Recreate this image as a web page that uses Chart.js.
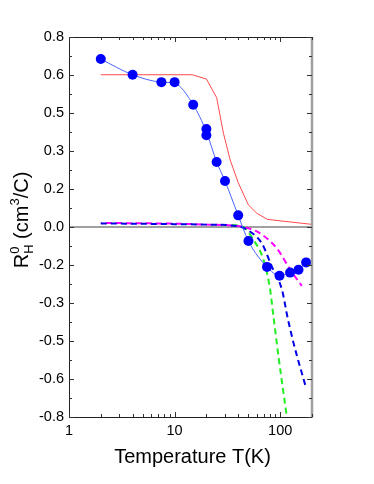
<!DOCTYPE html>
<html>
<head>
<meta charset="utf-8">
<script src="https://cdn.jsdelivr.net/npm/chart.js@4/dist/chart.umd.min.js"></script>
<style>
  body { margin: 0; background: #fff; }
  #wrap { width: 374px; height: 484px; }
</style>
</head>
<body>
<div id="wrap"><canvas id="myChart"></canvas></div>
<script>
// measured Hall coefficient (dots)
const dotT = [2, 4, 7.5, 10, 15, 20, 20, 25, 30, 40, 50, 75, 98.5, 124, 149, 176];
const dotR = [0.707, 0.641, 0.61, 0.61, 0.515, 0.413, 0.386, 0.274, 0.194, 0.049, -0.059, -0.168, -0.205, -0.192, -0.18, -0.149];

// guide line through the dots
const fitT = [2, 4, 7.5, 10, 15, 20, 25, 30, 40, 50, 75, 98.5, 124, 149, 176];
const fitR = [0.707, 0.641, 0.61, 0.605, 0.515, 0.40, 0.274, 0.194, 0.049, -0.059, -0.168, -0.205, -0.192, -0.18, -0.149];

// red model curve
const redT = [2, 14.7, 20, 25, 29, 33.6, 40, 50, 60, 75.5, 200];
const redR = [0.641, 0.641, 0.623, 0.545, 0.395, 0.282, 0.187, 0.093, 0.058, 0.032, 0.011];

// dashed curves
const magT = [2, 10, 20, 40, 50, 64.6, 93, 125, 160];
const magR = [0.017, 0.014, 0.01, 0.004, -0.005, -0.027, -0.09, -0.181, -0.248];
const bluT = [2, 10, 20, 40, 52, 67, 83.4, 104, 117, 134, 175];
const bluR = [0.015, 0.012, 0.01, 0.003, -0.02, -0.069, -0.167, -0.265, -0.378, -0.49, -0.675];
const grnT = [35, 44.6, 56, 69.5, 80, 86.4, 96.4, 115.6];
const grnR = [0.008, 0, -0.055, -0.139, -0.26, -0.378, -0.546, -0.8];

// axis ticks
const xTicks = [1, 10, 100];
const xTickLabels = ['1', '10', '100'];
const yTicks = [-0.8, -0.64, -0.48, -0.32, -0.16, 0, 0.16, 0.32, 0.48, 0.64, 0.8];
const yTickLabels = ['-0.8', '-0.6', '-0.5', '-0.3', '-0.2', '0.0', '0.2', '0.3', '0.5', '0.6', '0.8'];

function pts(xs, ys) {
    return xs.map(function (x, i) { return { x: x, y: ys[i] }; });
}

function dashed(data, color, offset) {
    return {
        data: data, borderColor: color, borderWidth: 2, borderDash: [6, 4], borderDashOffset: offset || 0,
        pointRadius: 0, showLine: true, fill: false, cubicInterpolationMode: 'monotone'
    };
}

const frame = {
    id: 'frame',
    beforeDatasetsDraw: function (chart) {
        const ctx = chart.ctx, a = chart.chartArea, y0 = chart.scales.y.getPixelForValue(0);
        ctx.save();
        ctx.strokeStyle = '#808080';
        ctx.lineWidth = 1.5;
        ctx.beginPath();
        ctx.moveTo(a.left, y0);
        ctx.lineTo(a.right, y0);
        ctx.stroke();
        ctx.restore();
    },
    afterDraw: function (chart) {
        const ctx = chart.ctx, a = chart.chartArea;
        const sx = chart.scales.x, sy = chart.scales.y;
        ctx.save();

        // axis lines
        ctx.lineWidth = 1;
        ctx.strokeStyle = '#222';
        ctx.beginPath();
        ctx.moveTo(a.left + 0.5, a.top);
        ctx.lineTo(a.left + 0.5, a.bottom);
        ctx.moveTo(a.left, a.bottom + 0.5);
        ctx.lineTo(a.right, a.bottom + 0.5);
        ctx.moveTo(a.left, a.top + 0.5);
        ctx.lineTo(a.right, a.top + 0.5);
        ctx.stroke();
        ctx.strokeStyle = '#a0a0a0';
        ctx.lineWidth = 2.5;
        ctx.beginPath();
        ctx.moveTo(a.right, a.top);
        ctx.lineTo(a.right, a.bottom + 1);
        ctx.stroke();

        // x ticks, bottom and top
        ctx.lineWidth = 1;
        ctx.strokeStyle = '#333';
        ctx.beginPath();
        [1, 10, 100].forEach(function (dec) {
            for (let k = 1; k <= 9; k++) {
                const v = dec * k;
                if (v > 200) continue;
                const px = Math.round(sx.getPixelForValue(v)) + 0.5;
                const len = k === 1 ? 5 : 3;
                ctx.moveTo(px, a.bottom);
                ctx.lineTo(px, a.bottom - len);
                ctx.moveTo(px, a.top);
                ctx.lineTo(px, a.top + len);
            }
        });
        // y ticks, left and right
        for (let i = 0; i < yTicks.length; i++) {
            const py = Math.round(sy.getPixelForValue(yTicks[i])) + 0.5;
            ctx.moveTo(a.left, py);
            ctx.lineTo(a.left + 5, py);
            ctx.moveTo(a.right, py);
            ctx.lineTo(a.right - 5, py);
            if (i < yTicks.length - 1) {
                const pm = Math.round(sy.getPixelForValue(yTicks[i] + 0.08)) + 0.5;
                ctx.moveTo(a.left, pm);
                ctx.lineTo(a.left + 3, pm);
                ctx.moveTo(a.right, pm);
                ctx.lineTo(a.right - 3, pm);
            }
        }
        ctx.stroke();

        // x title
        ctx.fillStyle = '#000';
        ctx.font = '20px "Liberation Sans", Arial, sans-serif';
        ctx.textAlign = 'center';
        ctx.textBaseline = 'middle';
        ctx.fillText('Temperature T(K)', (a.left + a.right) / 2 + 2, 457);

        // y title: R with sup 0 / sub H, then (cm^3/C)
        const big = '20px "Liberation Sans", Arial, sans-serif';
        const small = '13px "Liberation Sans", Arial, sans-serif';
        ctx.textAlign = 'left';
        ctx.textBaseline = 'alphabetic';
        ctx.font = big;
        const wR = ctx.measureText('R').width;
        const wA = ctx.measureText(' (cm').width;
        const wB = ctx.measureText('/C)').width;
        ctx.font = small;
        const wS = Math.max(ctx.measureText('0').width, ctx.measureText('H').width);
        const w3 = ctx.measureText('3').width;
        const total = wR + wS + wA + w3 + wB;
        ctx.translate(28, 220 + total / 2);
        ctx.rotate(-Math.PI / 2);
        let x = 0;
        ctx.font = big;
        ctx.fillText('R', x, 0); x += wR;
        ctx.font = small;
        ctx.fillText('0', x, -9);
        ctx.fillText('H', x, 5); x += wS;
        ctx.font = big;
        ctx.fillText(' (cm', x, 0); x += wA;
        ctx.font = small;
        ctx.fillText('3', x, -9); x += w3;
        ctx.font = big;
        ctx.fillText('/C)', x, 0);
        ctx.restore();
    }
};

let ctxMain = document.getElementById('myChart').getContext('2d');
let hallChart = new Chart(ctxMain, {
    type: 'scatter',
    data: {
        datasets: [
            { data: pts(dotT, dotR), backgroundColor: '#0000ff', borderWidth: 0, pointRadius: 5, showLine: false },
            { data: pts(fitT, fitR), borderColor: '#4a64ff', borderWidth: 1, pointRadius: 0, showLine: true, fill: false, cubicInterpolationMode: 'monotone' },
            dashed(pts(bluT, bluR), '#0000e6', 0),
            dashed(pts(magT, magR), '#ff00ff', 5),
            dashed(pts(grnT, grnR), '#22ee22', 0),
            { data: pts(redT, redR), borderColor: '#ff4a4a', borderWidth: 1, pointRadius: 0, showLine: true, fill: false }
        ]
    },
    options: {
        responsive: true,
        maintainAspectRatio: false,
        animation: false,
        layout: { padding: { left: 0, right: 62, top: 37, bottom: 0 } },
        plugins: { legend: { display: false }, tooltip: { enabled: false } },
        scales: {
            x: {
                type: 'logarithmic', min: 1, max: 200,
                grid: { display: false, drawTicks: false },
                border: { display: false },
                afterBuildTicks: function (s) { s.ticks = xTicks.map(function (v) { return { value: v }; }); },
                afterFit: function (s) { s.height = 67; },
                ticks: {
                    autoSkip: false, maxRotation: 0, padding: 5, color: '#000',
                    font: { family: '"Liberation Sans", Arial, sans-serif', size: 14.5 },
                    callback: function (v, i) { return xTickLabels[i]; }
                }
            },
            y: {
                min: -0.8, max: 0.8,
                grid: { display: false, drawTicks: false },
                border: { display: false },
                afterBuildTicks: function (s) { s.ticks = yTicks.map(function (v) { return { value: v }; }); },
                afterFit: function (s) { s.width = 69; },
                ticks: {
                    padding: 5, color: '#000',
                    font: { family: '"Liberation Sans", Arial, sans-serif', size: 14.5 },
                    callback: function (v, i) { return yTickLabels[i]; }
                }
            }
        }
    },
    plugins: [frame]
});
</script>
</body>
</html>
